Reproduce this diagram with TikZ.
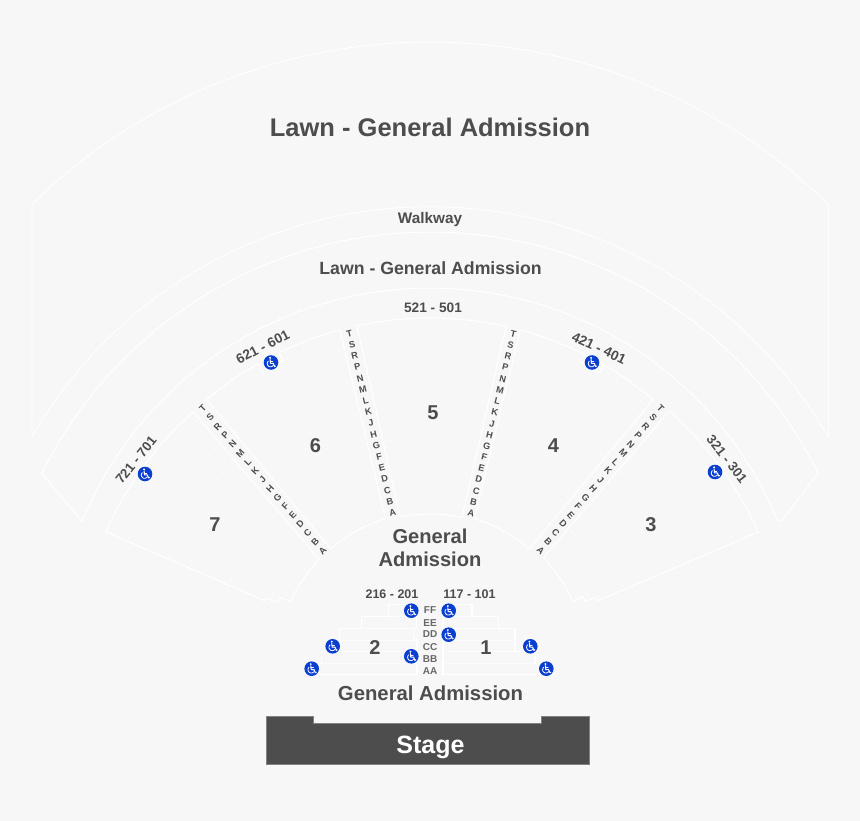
\documentclass[tikz,border=0pt]{standalone}
\usepackage{fontspec}
\setmainfont{Liberation Sans}
\definecolor{bg}{HTML}{F7F7F7}
\definecolor{ink}{HTML}{4D4D4D}
\definecolor{wcblue}{HTML}{0B3FD0}
\tikzset{
  outline/.style={draw=white,line width=1.1pt,line join=miter},
  faintline/.style={draw=white,line width=0.9pt},
  rowline/.style={draw=white,line width=0.4pt,opacity=0.5},
  tierline/.style={draw=white,line width=0.6pt,opacity=0.7},
  lab/.style={text=ink,font=\bfseries,inner sep=0pt,align=center},
  wcdisc/.style={circle,fill=wcblue,minimum size=14.6pt,inner sep=0pt},
  wcstroke/.style={draw=white,line width=1.05pt,line cap=round,line join=round}
}
\newcommand{\fz}[1]{\fontsize{#1}{#1}\selectfont}
\newcommand{\arcp}[5]{plot[variable=\t,domain=#4:#5,samples=50] ({#1+(#3)*cos(\t)},{#2-(#3)*sin(\t)})}
\newcommand{\larc}[5]{-- plot[variable=\t,domain=#4:#5,samples=50] ({#1+(#3)*cos(\t)},{#2-(#3)*sin(\t)})}
\newcommand{\wc}[3]{%
  \node[wcdisc] (#1) at (#2,#3) {};
  \begin{scope}[shift={(#2,#3)}]
    \fill[white] (-0.9,-4.6) circle (1.05pt);
    \draw[wcstroke] (-0.9,-2.9) -- (-0.5,0.9) -- (2.3,0.9) -- (3.6,4) -- (4.5,3.6);
    \draw[wcstroke,line width=0.75pt] (-0.7,-1) -- (1.8,-1);
    \draw[wcstroke,line width=0.8pt] plot[variable=\t,domain=135:325,samples=14] ({-0.4+3.3*cos(\t)},{1.0-3.3*sin(\t)});
  \end{scope}}
\newcommand{\aisle}[6]{%
  \foreach \l [count=\i from 0] in {T,S,R,P,N,M,L,K,J,H,G,F,E,D,C,B,A}
    \node[text=ink,inner sep=0pt,rotate=#6,font=\bfseries\fz{9.2}] (#1-\i)
      at ({#2+(#4-#2)*\i/16},{#3+(#5-#3)*\i/16}) {\l};}
\newcommand{\rowl}[3]{%
  \begin{scope}
    \clip #1;
    \foreach \r in {161,172,...,345}
      \draw[rowline] \arcp{430}{664}{\r}{#2}{#3};
  \end{scope}}
% seating sections
\newcommand{\zfive}{\arcp{430}{664}{346}{102.2}{77.3} \larc{430}{664}{150}{77.7}{101.5} -- cycle}
\newcommand{\zsix}{\arcp{430}{664}{346}{105.1}{115.9} -- (283,360) -- (263,373) -- (259,365) \larc{430}{664}{346}{119.8}{130.2} \larc{430}{664}{152}{130.8}{107} -- cycle}
\newcommand{\zfour}{\arcp{430}{664}{346}{74.9}{64.1} -- (604,364) -- (600,373) -- (580,362) \larc{430}{664}{346}{60.4}{49.8} \larc{430}{664}{152}{49.2}{73} -- cycle}
\newcommand{\zseven}{plot[variable=\t,domain=133.2:157.8,samples=50] ({430+(346+(\t-133.2)*0.16)*cos(\t)},{664-(346+(\t-133.2)*0.16)*sin(\t)}) -- (264.3,600.7) -- (267.7,598.3) -- (278.3,602.7) -- (280.3,597.3) -- (290.3,601.7) \larc{430}{664}{152.5}{156}{136.6} -- cycle}
\newcommand{\zthree}{plot[variable=\t,domain=46.6:21.9,samples=50] ({430+(348+(46.6-\t)*0.23)*cos(\t)},{664-(348+(46.6-\t)*0.23)*sin(\t)}) -- (597.7,600.7) -- (595.7,597.3) -- (585,601.7) -- (583.3,596.7) -- (573.3,601.7) \larc{432}{664}{154}{23.7}{43.7} -- cycle}
\begin{document}
\begin{tikzpicture}[x=1pt,y=-1pt]
\useasboundingbox (0,0) rectangle (860,821);
\fill[bg] (0,0) rectangle (860,821);

% lawn and walkway
\draw[faintline] (32,437) -- (32,203) \larc{430}{612}{570}{134.2}{45.8} -- (828.5,203) -- (828.5,437);
\draw[faintline] \arcp{430}{666}{459.4}{150.1}{29.9};
\draw[outline] \arcp{430}{665}{433}{153.7}{26.3} -- (781.7,520.7) \larc{430}{664}{376}{22.3}{157.7} -- cycle;

% row lines
\rowl{\zfive}{77}{103}
\rowl{\zsix}{105}{131}
\rowl{\zfour}{49}{75}
\rowl{\zseven}{133}{158}
\rowl{\zthree}{22}{47}

% sections
\draw[outline] \zfive;
\draw[outline] \zsix;
\draw[outline] \zfour;
\draw[outline] \zseven;
\draw[outline] \zthree;

% lower tiers
\draw[tierline] (339,640) -- (416.7,640) (322,651.3) -- (416.7,651.3) (318.5,663.3) -- (416.7,663.3) (339,628.3) -- (413.3,628.3) (362,616.7) -- (416.7,616.7);
\draw[tierline] (443,640) -- (515,640) (443,651.3) -- (535,651.3) (443,663.3) -- (540,663.3) (443,628.3) -- (515,628.3) (443,616.7) -- (498,616.7);
\draw[outline] (388.3,604.3) -- (416.7,604.3) -- (416.7,628.3) -- (413.7,628.3) -- (413.7,640) -- (417,640) -- (417,674.3) -- (318.3,674.3) -- (318.3,663.3) -- (321.7,663.3) -- (321.7,651.3) -- (339.5,651.3) -- (339.5,628.3) -- (361.7,628.3) -- (361.7,616.7) -- (388.3,616.7) -- cycle;
\draw[outline] (443,604.3) -- (472,604.3) -- (472,616.7) -- (498.5,616.7) -- (498.5,628.3) -- (515,628.3) -- (515,651.3) -- (535,651.3) -- (535,663.3) -- (540,663.3) -- (540,674.3) -- (443,674.3) -- cycle;

% stage
\path[fill=ink,draw=ink!70!white,line width=0.8pt] (266.5,716) -- (313.5,716) -- (313.5,723.5) -- (541,723.5) -- (541,716) -- (589.5,716) -- (589.5,764) -- (266.5,764) -- cycle;
\node[lab,text=white,font=\bfseries\fz{25}] (stage) at (430.5,747) {Stage};

% main labels
\node[lab,font=\bfseries\fz{25.5}] (lawntop) at (430,127.5) {Lawn - General Admission};
\node[lab,font=\bfseries\fz{15.3}] (walkway) at (430,220) {Walkway};
\node[lab,font=\bfseries\fz{17.7}] (lawnmid) at (430.5,268) {Lawn - General Admission};
\node[lab,font=\bfseries\fz{13.7}] (r5) at (433,307.5) {521 - 501};
\node[lab,font=\bfseries\fz{13.7},rotate=27] (r6) at (262.7,347) {621 - 601};
\node[lab,font=\bfseries\fz{13.4},rotate=51] (r7) at (136,460) {721 - 701};
\node[lab,font=\bfseries\fz{13.7},rotate=-25] (r4) at (599,348) {421 - 401};
\node[lab,font=\bfseries\fz{13.4},rotate=-52] (r3) at (727,459) {321 - 301};
\node[lab,font=\bfseries\fz{20.1}] (ga1) at (430,536.5) {General};
\node[lab,font=\bfseries\fz{20.1}] (ga2) at (430,559.5) {Admission};
\node[lab,font=\bfseries\fz{20.3}] (ga3) at (430.5,693) {General Admission};
\node[lab,font=\bfseries\fz{12.5}] (r2) at (392,594.5) {216 - 201};
\node[lab,font=\bfseries\fz{12.5}] (r1) at (469.5,594.5) {117 - 101};

% section numbers
\foreach \n/\nx/\ny in {5/433/413,6/315.5/446,7/215/525,4/553.5/446,3/651/525,2/375/648,1/486/648}
  \node[lab,font=\bfseries\fz{20}] (sec\n) at (\nx,\ny) {\n};

% front rows
\foreach \q/\ty in {FF/610,EE/623,DD/634.5,CC/647,BB/659,AA/671}
  \node[lab,text=ink!85!white,font=\bfseries\fz{10}] (row\q) at (430,\ty) {\q};

% aisle letters
\aisle{aa}{202.7}{408.7}{322.7}{550.7}{46}
\aisle{ab}{349.3}{333.3}{392.7}{512.7}{13.5}
\aisle{ac}{513.3}{334}{471}{513.3}{-13.5}
\aisle{ad}{660.7}{408.7}{540.7}{550.7}{-46}

% accessibility markers
\wc{w1}{145}{474}
\wc{w2}{271}{362.5}
\wc{w3}{592}{362.5}
\wc{w4}{715}{472}
\wc{w5}{411.3}{610.7}
\wc{w6}{448.7}{610.7}
\wc{w7}{448.7}{634.7}
\wc{w8}{411.3}{656.3}
\wc{w9}{332.7}{646.3}
\wc{w10}{311.7}{668.7}
\wc{w11}{530.3}{646.3}
\wc{w12}{546.3}{668.7}
\end{tikzpicture}
\end{document}
